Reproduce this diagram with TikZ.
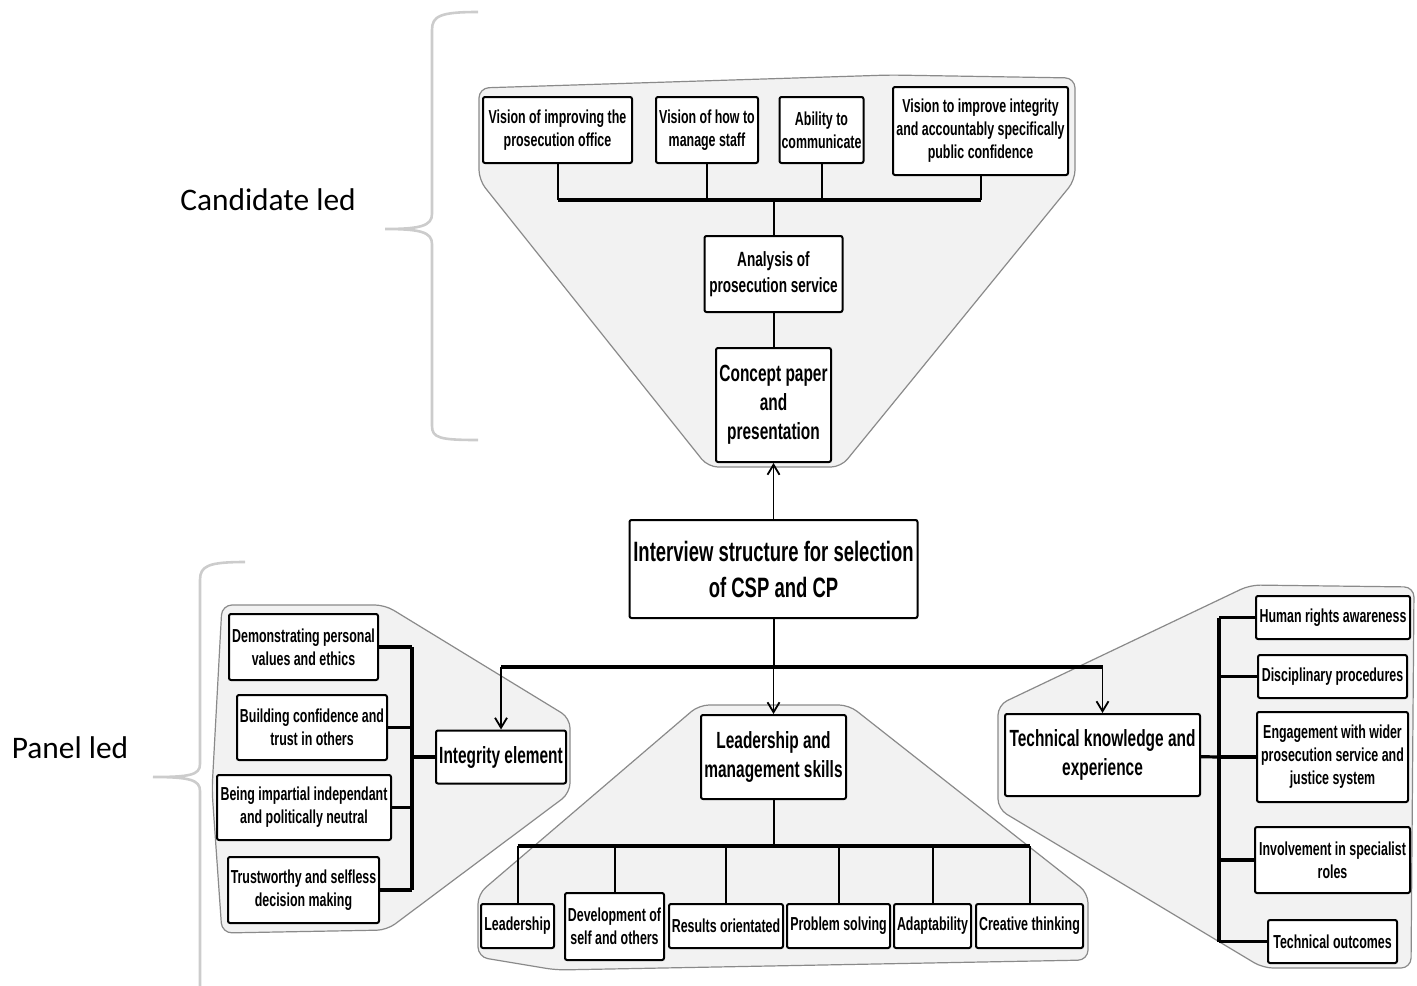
\documentclass[tikz,border=0pt]{standalone}
\usepackage{fontspec}
\newfontfamily\boxfont{Liberation Sans}[FakeStretch=0.66]
\newfontfamily\sidefont{Carlito}
\usetikzlibrary{arrows.meta, calc}
\definecolor{cpanel}{HTML}{F2F2F2}
\definecolor{cedge}{HTML}{8A8A8A}
\definecolor{cbrace}{HTML}{CCCCCC}
\tikzset{
  every picture/.style={x=0.5pt, y=-0.5pt},
  leaf/.style={draw, fill=white, line width=1pt, rounded corners=1pt, align=center, inner sep=1pt,
    font=\boxfont\bfseries\fontsize{9.4}{11.5}\selectfont},
  wh/.style 2 args={minimum width=#1pt/2, minimum height=#2pt/2},
  panel/.style={draw=cedge, fill=cpanel, line width=0.6pt, rounded corners=5pt},
  brace/.style={draw=cbrace, line width=1.3pt},
  link/.style={line width=1pt, rounded corners=1.5pt},
  bus/.style={line width=1.6pt, rounded corners=1.5pt},
  arrow/.style={-{Straight Barb[length=5pt, width=6pt]}, line width=0.9pt},
  sidelabel/.style={font=\sidefont\fontsize{15.7}{19}\selectfont},
}

\begin{document}
\begin{tikzpicture}[mid/.style={leaf, font=\boxfont\bfseries\fontsize{10.3}{13}\selectfont},
  big/.style={leaf, font=\boxfont\bfseries\fontsize{11.7}{14.5}\selectfont},
  rootbox/.style={leaf, font=\boxfont\bfseries\fontsize{14}{18}\selectfont}]
  \useasboundingbox (0,0) rectangle (1417,985);
  % braces and side labels
  \draw[brace] (478,12) .. controls (440,12) and (432,16) .. (432,30) -- (432,214)
    .. controls (432,226) and (420,229) .. (385,229) .. controls (420,229) and (432,232) .. (432,244)
    -- (432,426) .. controls (432,438) and (440,440) .. (478,440);
  \draw[brace] (245,562) .. controls (208,562) and (200,566) .. (200,580) -- (200,764)
    .. controls (200,775) and (190,777) .. (153,777) .. controls (190,777) and (200,780) .. (200,791)
    -- (200,990);
  \node[sidelabel] (cand) at (268,200) {Candidate led};
  \node[sidelabel] (panl) at (70,748) {Panel led};
  % panels
  \draw[panel] (479,88) -- (890,75) -- (1075,78) -- (1075,180) -- (841,467) -- (708,467) -- (479,180) -- cycle;
  \draw[panel] (222,605) -- (385,605) -- (570,718) -- (570,793) -- (387,930) -- (222,933) -- (212,790) -- cycle;
  \draw[panel] (699,705) -- (849,705) -- (1088,893) -- (1088,960) -- (556,970) -- (478,957) -- (478,894) -- cycle;
  \draw[panel] (1250,585) -- (1414,587) -- (1411,968) -- (1263,968) -- (998,809) -- (998,705) -- cycle;
  % candidate led part
  \node[leaf, wh={149}{66}] (v1) at (557.5,130) {Vision of improving the\\prosecution office};
  \node[leaf, wh={102}{66}] (v2) at (707,130) {Vision of how to\\manage staff};
  \node[leaf, wh={81}{66}] (v3) at (821.5,130) {Ability to\\communicate};
  \node[leaf, wh={175}{88}] (v4) at (980.5,131) {Vision to improve integrity\\and accountably specifically\\public confidence};
  \node[mid, wh={138}{76}] (ana) at (773.5,274) {Analysis of\\prosecution service};
  \node[big, wh={115}{114}] (cp) at (773.5,405) {Concept paper\\and\\presentation};
  \node[rootbox, wh={288}{98}] (root) at (773.5,569) {Interview structure for selection\\of CSP and CP};
  \coordinate (jT) at (773.5,200);
  \foreach \n in {v1,v2,v3,v4} \draw[link] (\n.south) -- (\n.south |- jT);
  \draw[bus] (v1.south |- jT) -- (v4.south |- jT);
  \draw[link] (jT) -- (ana);
  \draw[link] (ana) -- (cp);
  \draw[arrow] (root) -- (cp);
  % panel led part
  \node[big, wh={130}{53}] (integ) at (501,757) {Integrity element};
  \node[big, wh={145}{84}] (lead) at (773.5,757) {Leadership and\\management skills};
  \node[big, wh={195}{82}] (tech) at (1102.5,755) {Technical knowledge and\\experience};
  \coordinate (jM) at (773.5,667);
  \draw[link] (root) -- (jM);
  \draw[bus] (jM -| integ) -- (jM -| tech);
  \draw[arrow] (jM -| integ) -- (integ);
  \draw[arrow] (jM) -- (lead);
  \draw[arrow] (jM -| tech) -- (tech);
  % integrity element
  \node[leaf, wh={149}{66}] (d1) at (303.5,647) {Demonstrating personal\\values and ethics};
  \node[leaf, wh={150}{65}] (d2) at (312,727.5) {Building confidence and\\trust in others};
  \node[leaf, wh={174}{65}] (d3) at (304,807.5) {Being impartial independant\\and politically neutral};
  \node[leaf, wh={151}{66}] (d4) at (303.5,890) {Trustworthy and selfless\\decision making};
  \coordinate (jL) at (412,757);
  \foreach \n in {d1,d2,d3,d4} \draw[bus] (\n.east) -- (\n -| jL);
  \draw[bus] (d1 -| jL) -- (d4 -| jL);
  \draw[bus] (jL) -- (integ);
  % leadership and management
  \node[leaf, wh={73}{44}] (b1) at (517.5,926) {Leadership};
  \node[leaf, wh={99}{67}] (b2) at (614.5,926.5) {Development of\\self and others};
  \node[leaf, wh={114}{44}] (b3) at (726,926) {Results orientated};
  \node[leaf, wh={103}{44}] (b4) at (838.5,926) {Problem solving};
  \node[leaf, wh={77}{44}] (b5) at (932.5,926) {Adaptability};
  \node[leaf, wh={107}{44}] (b6) at (1029.5,926) {Creative thinking};
  \coordinate (jB) at (773.5,846);
  \draw[link] (lead) -- (jB);
  \draw[bus] (b1 |- jB) -- (b6 |- jB);
  \foreach \n in {b1,b2,b3,b4,b5,b6} \draw[link] (\n |- jB) -- (\n.north);
  % technical knowledge
  \node[leaf, wh={154}{43}] (r1) at (1333,617.5) {Human rights awareness};
  \node[leaf, wh={149}{43}] (r2) at (1332.5,676.5) {Disciplinary procedures};
  \node[leaf, wh={151}{90}] (r3) at (1332.5,757) {Engagement with wider\\prosecution service and\\justice system};
  \node[leaf, wh={155}{66}] (r4) at (1332.5,860) {Involvement in specialist\\roles};
  \node[leaf, wh={129}{43}] (r5) at (1332.5,941.5) {Technical outcomes};
  \coordinate (jR) at (1219,757);
  \draw[bus] (tech) -- (jR);
  \draw[bus] (r1 -| jR) -- (r5 -| jR);
  \foreach \n in {r1,r2,r3,r4,r5} \draw[bus] (\n -| jR) -- (\n.west);
\end{tikzpicture}
\end{document}
